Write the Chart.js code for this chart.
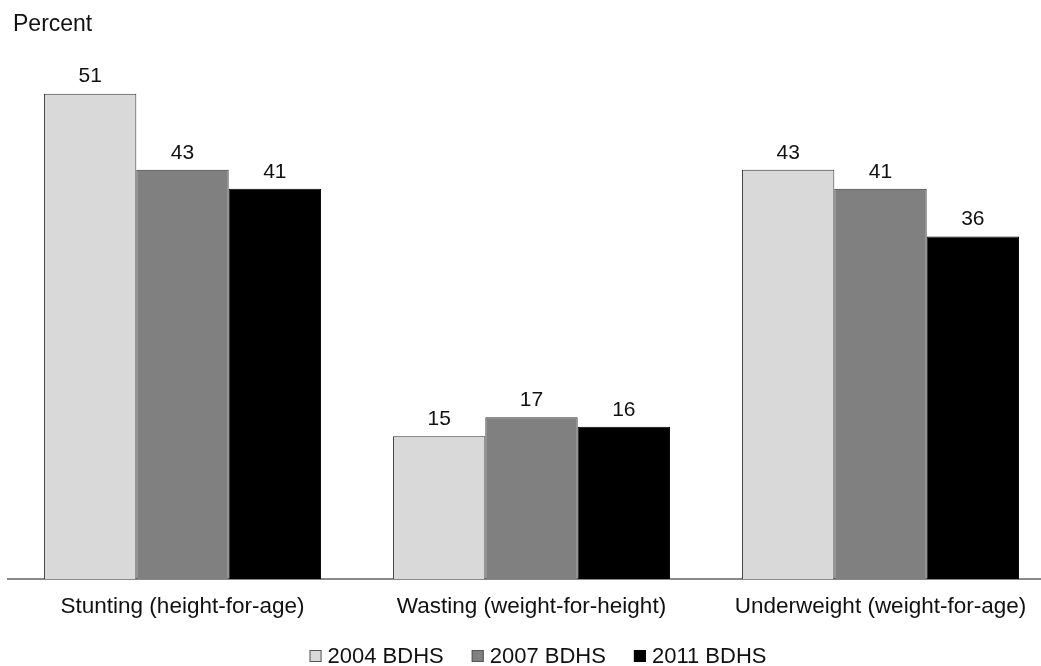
<!DOCTYPE html>
<html>
<head>
<meta charset="utf-8">
<script src="https://cdn.jsdelivr.net/npm/chart.js@4"></script>
<style>
html,body{margin:0;padding:0;background:#fff;overflow:hidden;}
#wrap{width:1041px;height:666px;position:relative;overflow:hidden;}
</style>
</head>
<body>
<div id="wrap"><canvas id="c" width="1055" height="666"></canvas></div>
<script>
const categories = ["Stunting (height-for-age)", "Wasting (weight-for-height)", "Underweight (weight-for-age)"];
const seriesLabels = ["2004 BDHS", "2007 BDHS", "2011 BDHS"];
const values2004 = [51, 15, 43];
const values2007 = [43, 17, 41];
const values2011 = [41, 16, 36];
const yTitle = "Percent";

const FONT = "'Liberation Sans', Arial, sans-serif";
const colors = ["#d9d9d9", "#808080", "#000000"];
const borders = ["#333333", "#333333", "#000000"];
const seriesValues = [values2004, values2007, values2011];

const datasets = seriesLabels.map((lab, i) => ({
  label: lab,
  data: seriesValues[i],
  backgroundColor: colors[i],
  borderColor: borders[i],
  borderWidth: 1,
  categoryPercentage: 0.794,
  barPercentage: 1.0
}));

const valueLabels = {
  id: 'valueLabels',
  afterDatasetsDraw(chart) {
    const ctx = chart.ctx;
    ctx.save();
    ctx.font = "21px " + FONT;
    ctx.fillStyle = "#111";
    ctx.textAlign = "center";
    ctx.textBaseline = "middle";
    chart.data.datasets.forEach((ds, di) => {
      chart.getDatasetMeta(di).data.forEach((bar, j) => {
        ctx.fillText(String(ds.data[j]), bar.x, bar.y - 17);
      });
    });
    ctx.textAlign = "left";
    ctx.font = "23px " + FONT;
    ctx.fillText(yTitle, 13, 25);
    ctx.restore();
  }
};

const customLegend = {
  id: 'customLegend',
  afterDraw(chart) {
    const ctx = chart.ctx;
    ctx.save();
    ctx.font = "22px " + FONT;
    ctx.textBaseline = "middle";
    ctx.textAlign = "left";
    const box = 12, gap = 6, spacing = 28;
    const widths = chart.data.datasets.map(ds => ctx.measureText(ds.label).width);
    let total = widths.reduce((a, w) => a + box + gap + w, 0) + spacing * (widths.length - 1);
    let x = 538 - total / 2;
    const yc = 656;
    chart.data.datasets.forEach((ds, i) => {
      ctx.fillStyle = ds.backgroundColor;
      ctx.fillRect(x, yc - box / 2, box, box);
      ctx.strokeStyle = i === 2 ? "#000" : "#555";
      ctx.lineWidth = 1;
      ctx.strokeRect(x + 0.5, yc - box / 2 + 0.5, box - 1, box - 1);
      ctx.fillStyle = "#111";
      ctx.fillText(ds.label, x + box + gap, yc + 1);
      x += box + gap + widths[i] + spacing;
    });
    ctx.restore();
  }
};

new Chart(document.getElementById('c'), {
  type: 'bar',
  data: { labels: categories, datasets },
  options: {
    responsive: false,
    animation: false,
    layout: { padding: { left: 8, right: 0, top: 8, bottom: 32 } },
    plugins: {
      legend: { display: false },
      tooltip: { enabled: false },
      title: { display: false }
    },
    scales: {
      x: {
        grid: { display: false, drawTicks: false },
        border: { display: true, color: "#898989", width: 2 },
        ticks: { font: { family: FONT, size: 22.5 }, color: "#111", padding: 14, maxRotation: 0, autoSkip: false }
      },
      y: {
        display: false,
        min: 0,
        max: 60
      }
    }
  },
  plugins: [valueLabels, customLegend]
});
</script>
</body>
</html>
